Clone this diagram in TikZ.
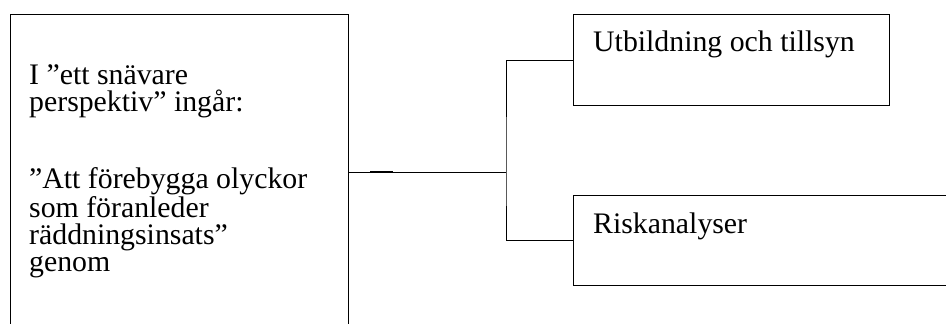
\documentclass[tikz,border=0pt]{standalone}
\usepackage{fontspec}
\setmainfont{Liberation Serif}
\usetikzlibrary{positioning}

\begin{document}
\begin{tikzpicture}[x=1pt,y=-1pt,
    box/.style={draw, line width=1.4pt, inner sep=0pt, anchor=north west},
    boxtext/.style={anchor=base west, inner sep=0pt, align=left,
      font=\fontsize{29.8}{27.3}\selectfont},
    link/.style={line width=1pt}]
  \clip (0,0) rectangle (946,324);
  \useasboundingbox (0,0) rectangle (946,324);
  % the boxes (left and lower right ones run off the page)
  \node[box, minimum width=338pt, minimum height=330pt] (narrow) at (10,14) {};
  \node[box, minimum width=316pt, minimum height=91pt] (teach) at (573,14) {};
  \node[box, minimum width=420pt, minimum height=90.5pt] (risk) at (573,194.5) {};
  % texts (base of a multi-line node is its last line)
  \node[boxtext, xshift=19pt, yshift=-257.7pt] (narrowtext) at (narrow.north west)
    {I ”ett snävare\\perspektiv” ingår:\\[48.7pt]”Att förebygga olyckor\\som föranleder\\räddningsinsats”\\genom};
  \node[boxtext, xshift=20pt, yshift=-37.7pt] (teachtext) at (teach.north west) {Utbildning och tillsyn};
  \node[boxtext, xshift=20pt, yshift=-38.5pt] (risktext) at (risk.north west) {Riskanalyser};
  % connectors
  \coordinate (fork) at (506,172.3);
  \coordinate (stub) at (370,172.3);
  \draw[link] (narrow.east |- fork) -- (fork);
  \draw[link, line width=1.8pt] (stub) -- ++(23,0);
  \draw[link] (teach.west) -| (fork) |- (risk.west);
\end{tikzpicture}
\end{document}
